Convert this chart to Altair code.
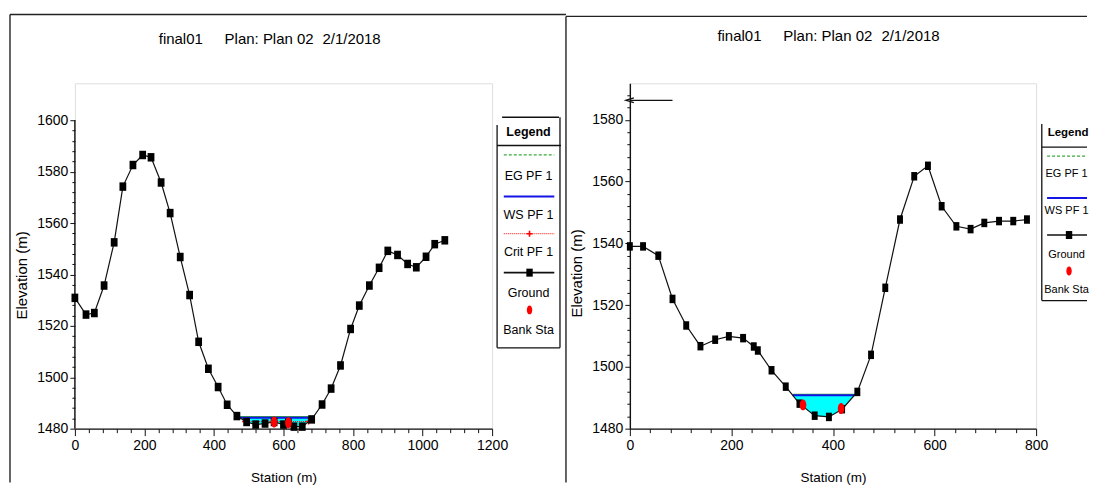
import altair as alt
import pandas as pd

FONT = "Liberation Sans, Arial, sans-serif"
GREEN = "#3aa83a"
BLUE = "#1414e6"
CYAN = "#00ffff"
RED = "#ff0000"
INK = "#111111"

TITLE_PARTS = ["final01", "Plan: Plan 02", "2/1/2018"]
X_TITLE = "Station (m)"
Y_TITLE = "Elevation (m)"
LEGEND_TITLE = "Legend"

# ---------------- left cross-section ----------------
L_STA = [0, 32, 56, 84, 113, 138, 167, 195, 219, 248, 274, 303, 330, 356, 384, 412, 438, 466,
         494, 520, 547, 573, 600, 614, 630, 654, 681, 711, 737, 764, 793, 818, 847, 875, 900,
         928, 957, 982, 1010, 1035, 1064]
L_ELEV = [1530.9, 1524.4, 1525.0, 1535.7, 1552.5, 1574.2, 1582.6, 1586.5, 1585.6, 1575.8,
          1563.9, 1546.8, 1532.0, 1513.8, 1503.3, 1496.2, 1489.3, 1484.9, 1482.6, 1481.6,
          1482.0, 1482.6, 1481.6, 1482.3, 1480.8, 1480.8, 1483.6, 1489.4, 1495.6, 1504.6,
          1518.8, 1527.9, 1535.7, 1542.6, 1549.2, 1547.6, 1544.1, 1542.8, 1546.9, 1551.8, 1553.3]
L_BANK_STA = [573, 614]
L_BANK_ELEV = [1482.6, 1482.3]
L_WATER_STA = [474.5, 494, 520, 547, 573, 600, 614, 630, 654, 681, 684]
L_WATER_BED = [1484.2, 1482.6, 1481.6, 1482.0, 1482.6, 1481.6, 1482.3, 1480.8, 1480.8, 1483.6, 1484.2]
L_WS = 1484.2
L_EG = 1484.6
L_CRIT = 1482.8
L_CRIT_STA = [490, 672]
L_XTICKS = [0, 200, 400, 600, 800, 1000, 1200]
L_YTICKS = [1480, 1500, 1520, 1540, 1560, 1580, 1600]
L_LEGEND = ["EG PF 1", "WS PF 1", "Crit PF 1", "Ground", "Bank Sta"]

# ---------------- right cross-section ----------------
R_STA = [0, 26, 56, 84, 111, 139, 168, 195, 223, 244, 252, 279, 307, 334, 364, 392, 418, 448,
         475, 503, 532, 560, 587, 614, 643, 671, 698, 727, 755, 782]
R_ELEV = [1539.0, 1539.0, 1536.0, 1522.0, 1513.4, 1506.7, 1508.8, 1509.9, 1509.3, 1506.6,
          1505.3, 1498.9, 1493.6, 1488.1, 1484.2, 1483.8, 1486.3, 1491.9, 1503.9, 1525.6,
          1547.7, 1561.7, 1565.1, 1552.0, 1545.5, 1544.6, 1546.6, 1547.2, 1547.2, 1547.7]
R_BANK_STA = [341, 416]
R_BANK_ELEV = [1487.7, 1486.5]
R_WATER_STA = [320.7, 334, 364, 392, 418, 442.1]
R_WATER_BED = [1490.8, 1488.1, 1484.2, 1483.8, 1486.3, 1490.8]
R_WS = 1490.8
R_EG = 1491.1
R_ARROW_STA = [0, 84]
R_ARROW_ELEV = [1586.3, 1586.3]
R_XTICKS = [0, 200, 400, 600, 800]
R_YTICKS = [1480, 1500, 1520, 1540, 1560, 1580]
R_LEGEND = ["EG PF 1", "WS PF 1", "Ground", "Bank Sta"]

SQUARE = "M-0.8,-1L0.8,-1L0.8,1L-0.8,1Z"
ELLIPSE = "M0,-1A0.6,1 0 1,1 0,1A0.6,1 0 1,1 0,-1Z"
CROSS = "M-1,0L1,0M0,-1L0,1"
CHEVRON = "M1,-0.6L-1,0L1,0.6"

ONE = [{"k": 0}]


def d_rule(x1, x2, y1, y2, color=INK, width=1.2, dash=None):
    kw = {"color": color, "strokeWidth": width}
    if dash is not None:
        kw["strokeDash"] = dash
    return alt.Chart(alt.Data(values=ONE)).mark_rule(**kw).encode(
        x=alt.value(x1), x2=alt.value(x2), y=alt.value(y1), y2=alt.value(y2))


def d_text(t, x, y, size, bold=False, align="center", baseline="middle"):
    return alt.Chart(alt.Data(values=ONE)).mark_text(
        text=t, font=FONT, fontSize=size, fontWeight="bold" if bold else "normal",
        align=align, baseline=baseline, color="black").encode(x=alt.value(x), y=alt.value(y))


def d_symbol(shape, x, y, size, color, filled=True, sw=1.0):
    return alt.Chart(alt.Data(values=ONE)).mark_point(
        shape=shape, size=size, filled=filled, color=color, opacity=1, strokeWidth=sw).encode(
        x=alt.value(x), y=alt.value(y))


def panel(p):
    w, h = p["w"], p["h"]
    xs = alt.Scale(domain=p["xdom"], nice=False, zero=False)
    ys = alt.Scale(domain=p["ydom"], nice=False, zero=False)

    def X(f, axis=None):
        return alt.X(f, type="quantitative", scale=xs, axis=axis)

    def Y(f, axis=None):
        return alt.Y(f, type="quantitative", scale=ys, axis=axis)

    ground = pd.DataFrame({"sta": p["sta"], "elev": p["elev"]})
    water = pd.DataFrame({"sta": p["wsta"], "bed": p["wbed"], "ws": [p["ws"]] * len(p["wsta"])})
    span = [p["wsta"][0], p["wsta"][-1]]
    ws_df = pd.DataFrame({"sta": span, "elev": [p["ws"], p["ws"]]})
    eg_df = pd.DataFrame({"sta": span, "elev": [p["eg"], p["eg"]]})
    bank = pd.DataFrame({"sta": p["bsta"], "elev": p["belev"]})

    xmajor = alt.Axis(values=p["xticks"], orient="bottom", format="d", labelFont=FONT,
                      labelFontSize=14, labelColor="black", labelFlush=False, labelOverlap=False,
                      labelPadding=3, tickSize=7, tickColor=INK, tickWidth=1, domain=True,
                      domainColor=INK, domainWidth=1.4, grid=False, title=X_TITLE,
                      titleFont=FONT, titleFontSize=13.5, titleFontWeight="normal",
                      titleColor="black", titleX=w / 2, titleY=49, titleBaseline="middle",
                      titleAlign="center")
    xmin_vals = [v for v in range(0, p["xdom"][1] + 1, 40) if v % 200 != 0]
    xminor = alt.Axis(values=xmin_vals, orient="bottom", labels=False, tickSize=4,
                      tickColor=INK, tickWidth=1, domain=False, grid=False, title=None)
    ymajor = alt.Axis(values=p["yticks"], orient="left", format="d", labelFont=FONT,
                      labelFontSize=14, labelColor="black", labelPadding=2, tickSize=5,
                      tickColor=INK, tickWidth=1, domain=p["ydomline"], domainColor=INK,
                      domainWidth=1.4, grid=False, title=Y_TITLE, titleFont=FONT,
                      titleFontSize=15, titleFontWeight="normal", titleColor="black",
                      titleX=-45, titleY=p["ytitle_y"], titleAngle=270,
                      titleBaseline="bottom", titleAlign="center")
    ymin_vals = [v for v in range(1480, p["ymax_tick"] + 1, 4) if v % 20 != 0]
    yminor = alt.Axis(values=ymin_vals, orient="left", labels=False, tickSize=3,
                      tickColor=INK, tickWidth=1, domain=False, grid=False, title=None)

    layers = []
    layers.append(alt.Chart(water).mark_area(color=CYAN, opacity=1).encode(
        x=X("sta"), y=Y("bed"), y2=alt.Y2("ws")))
    layers.append(alt.Chart(eg_df).mark_line(color=GREEN, strokeWidth=1.5).encode(
        x=X("sta"), y=Y("elev")))
    layers.append(alt.Chart(ws_df).mark_line(color=BLUE, strokeWidth=2).encode(
        x=X("sta"), y=Y("elev")))
    if p.get("crit_sta"):
        crit = pd.DataFrame({"sta": p["crit_sta"], "elev": [p["crit"]] * len(p["crit_sta"])})
        layers.append(alt.Chart(crit).mark_line(color=RED, strokeWidth=1, strokeDash=[1, 1]).encode(
            x=X("sta"), y=Y("elev")))
        layers.append(alt.Chart(crit).mark_point(shape=CROSS, size=40, filled=False, color=RED,
                                                 strokeWidth=1.6, opacity=1).encode(
            x=X("sta"), y=Y("elev")))
    if p.get("arrow_sta"):
        arrow = pd.DataFrame({"sta": p["arrow_sta"], "elev": p["arrow_elev"]})
        layers.append(alt.Chart(arrow).mark_line(color=INK, strokeWidth=1.3).encode(
            x=X("sta"), y=Y("elev")))
        layers.append(alt.Chart(arrow.iloc[:1]).mark_point(shape=CHEVRON, size=64, filled=False,
                                                           color=INK, strokeWidth=1.3, opacity=1).encode(
            x=X("sta"), y=Y("elev")))
    if p.get("yaxis_line"):
        al = pd.DataFrame({"sta": [p["xdom"][0]], "lo": [p["yaxis_line"][0]], "hi": [p["yaxis_line"][1]]})
        layers.append(alt.Chart(al).mark_rule(color=INK, strokeWidth=1.4).encode(
            x=X("sta"), y=Y("lo"), y2=alt.Y2("hi")))
    layers.append(alt.Chart(ground).mark_line(color=INK, strokeWidth=1.2).encode(
        x=X("sta", xmajor), y=Y("elev", ymajor)))
    layers.append(alt.Chart(ground).mark_line(strokeOpacity=0).encode(
        x=X("sta", xminor), y=Y("elev", yminor)))
    layers.append(alt.Chart(ground).mark_point(shape=p["square"], size=p["sqsize"], filled=True,
                                               color="black", opacity=1).encode(
        x=X("sta"), y=Y("elev")))
    layers.append(alt.Chart(bank).mark_point(shape=ELLIPSE, size=121, filled=True, color=RED,
                                             opacity=1).encode(x=X("sta"), y=Y("elev")))

    # panel frame
    fl, ft, fr = p["frame"]
    layers.append(d_rule(fl, fr, ft, ft, color="#222222", width=1.4))
    layers.append(d_rule(fl, fl, ft, 400, color="#222222", width=1.4))

    # panel title
    for t, tx in zip(TITLE_PARTS, p["title_x"]):
        layers.append(d_text(t, tx, p["title_y"], 15, align="left", baseline="alphabetic"))

    # legend
    lg = p["legend"]
    for (a, b, c, d) in lg["box"]:
        layers.append(d_rule(a, b, c, d, color=INK, width=1.3))
    layers.append(d_text(LEGEND_TITLE, lg["title_x"], lg["title_y"], lg["title_size"], bold=True))
    x1, x2 = lg["line_x"]
    sx = lg["sym_x"]
    for name, (ly, ty) in zip(p["legend_names"], lg["rows"]):
        if name.startswith("EG"):
            layers.append(d_rule(x1, x2, ly, ly, color=GREEN, width=1.2, dash=[3, 2]))
        elif name.startswith("WS"):
            layers.append(d_rule(x1, x2, ly, ly, color=BLUE, width=2))
        elif name.startswith("Crit"):
            layers.append(d_rule(x1, x2, ly, ly, color=RED, width=1, dash=[1, 1]))
            layers.append(d_symbol(CROSS, sx, ly, 36, RED, filled=False, sw=1.6))
        elif name.startswith("Ground"):
            layers.append(d_rule(x1, x2, ly, ly, color=INK, width=1.6))
            layers.append(d_symbol(SQUARE, sx, ly, 64, "black"))
        else:
            layers.append(d_symbol(ELLIPSE, sx, ly, 81, RED))
        layers.append(d_text(name, lg["tx"], ty, lg["size"]))

    return alt.layer(*layers).resolve_axis(x="independent", y="independent").properties(
        width=w, height=h)


left = panel(dict(
    w=418, h=346, xdom=[0, 1200], ydom=[1480, 1614.4], sta=L_STA, elev=L_ELEV,
    wsta=L_WATER_STA, wbed=L_WATER_BED, ws=L_WS, eg=L_EG, bsta=L_BANK_STA, belev=L_BANK_ELEV,
    crit=L_CRIT, crit_sta=L_CRIT_STA, xticks=L_XTICKS, yticks=L_YTICKS, ydomline=False,
    yaxis_line=[1480, 1600], ymax_tick=1600, ytitle_y=192, square=SQUARE, sqsize=72,
    frame=(-65, -69, 492), title_x=[84, 150, 248], title_y=-39,
    legend_names=L_LEGEND,
    legend=dict(
        box=[(428, 485, 34, 34), (423, 423, 41.7, 265), (486, 486, 34, 265),
             (423, 487, 62.3, 62.3), (423, 486, 265, 265)],
        tx=454.5, size=12.5, title_x=454.5, title_y=49, title_size=12.5,
        line_x=(429.7, 480.3), sym_x=455.5,
        rows=[(71.7, 93), (113.3, 132), (150.7, 169), (189.7, 209.7), (227, 247)]),
))

right = panel(dict(
    w=407, h=346, xdom=[0, 800], ydom=[1480, 1591.8], sta=R_STA, elev=R_ELEV,
    wsta=R_WATER_STA, wbed=R_WATER_BED, ws=R_WS, eg=R_EG, bsta=R_BANK_STA, belev=R_BANK_ELEV,
    xticks=R_XTICKS, yticks=R_YTICKS, ydomline=True, ymax_tick=1588, ytitle_y=190,
    arrow_sta=R_ARROW_STA, arrow_elev=R_ARROW_ELEV,
    square="M-0.7,-1L0.7,-1L0.7,1L-0.7,1Z", sqsize=72,
    frame=(-64, -67, 458), title_x=[87.7, 153.7, 252], title_y=-42,
    legend_names=R_LEGEND,
    legend=dict(
        box=[(412.7, 412.7, 40.7, 217.7), (412.7, 458, 64, 64), (412.7, 458, 217.7, 217.7)],
        tx=437.5, size=11, title_x=439, title_y=49.7, title_size=11.5,
        line_x=(418, 458), sym_x=440,
        rows=[(73, 90.7), (115, 128), (152, 172), (188, 207)]),
))

chart = alt.hconcat(left, right, spacing=138, bounds="flush").properties(
    padding={"left": 0, "top": 4, "right": 0, "bottom": 0}
).configure_view(stroke=None).configure(background="white")

chart.save("out.html", embed_options={"renderer": "svg", "actions": False})
